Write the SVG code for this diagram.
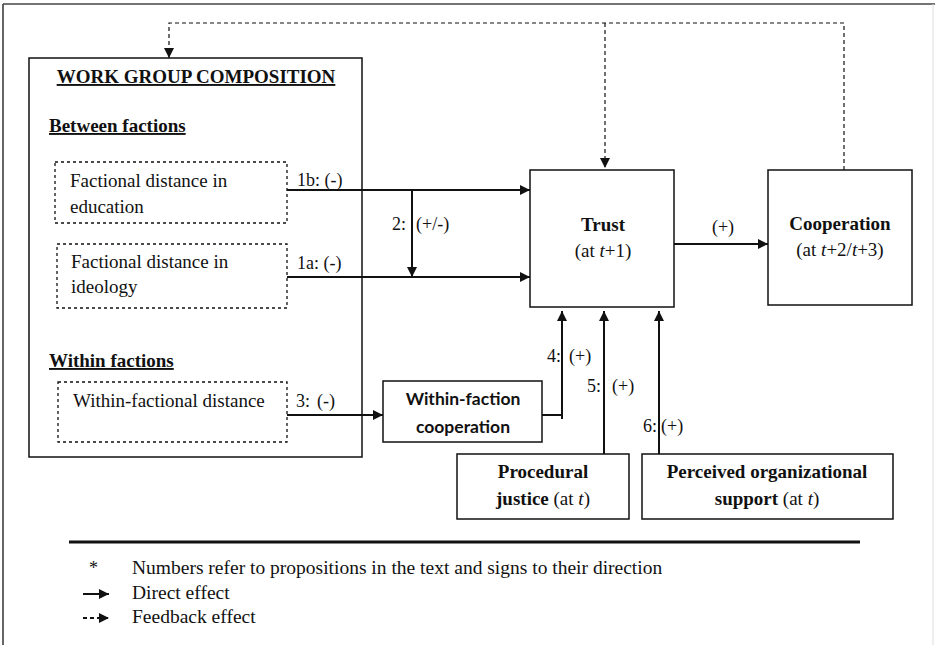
<svg xmlns="http://www.w3.org/2000/svg" width="935" height="645" viewBox="0 0 935 645">
<style>
text{font-family:"Liberation Serif","Times New Roman",serif;fill:#111}
.t{font-size:19px}
.b{font-size:19px;font-weight:bold}
.u{text-decoration:underline}
.l{font-size:18px}
.g{font-size:19.5px}
.s{font-family:Lato,"Open Sans",sans-serif;font-size:17.5px;font-weight:bold}
.box{fill:#fff;stroke:#111;stroke-width:1.5}
.dbox{fill:#fff;stroke:#111;stroke-width:1.3;stroke-dasharray:3 3}
.c{fill:none;stroke:#111;stroke-width:2}
.f{fill:none;stroke:#111;stroke-width:1.2;stroke-dasharray:4 3}
.i{font-style:italic}
</style>
<defs>
<marker id="a" viewBox="0 0 10 10" refX="10" refY="5" markerWidth="10" markerHeight="10" markerUnits="userSpaceOnUse" orient="auto">
<path d="M0,0 L10,5 L0,10 Z" fill="#111"/>
</marker>
</defs>
<rect width="935" height="645" fill="#fff"/>
<g id="frame">
<line x1="3" y1="4" x2="935" y2="4" stroke="#444" stroke-width="1.5"/>
<line x1="3" y1="4" x2="3" y2="645" stroke="#333" stroke-width="1.5"/>
<line x1="933" y1="4" x2="933" y2="645" stroke="#ddd" stroke-width="1"/>
</g>
<g id="work-group">
<rect class="box" x="29" y="58" width="333" height="399"/>
<text class="b u" x="196" y="83" text-anchor="middle">WORK GROUP COMPOSITION</text>
<text class="b u" x="49" y="132">Between factions</text>
<text class="b u" x="49" y="367">Within factions</text>
</g>
<g id="education">
<rect class="dbox" x="55" y="162" width="232" height="61"/>
<text class="t" x="70" y="187">Factional distance in</text>
<text class="t" x="70" y="213">education</text>
</g>
<g id="ideology">
<rect class="dbox" x="57" y="244" width="230" height="64"/>
<text class="t" x="71" y="268">Factional distance in</text>
<text class="t" x="71" y="293">ideology</text>
</g>
<g id="within-distance">
<rect class="dbox" x="58" y="382" width="229" height="60"/>
<text class="t" x="73" y="407">Within-factional distance</text>
</g>
<g id="trust">
<rect class="box" x="530" y="170" width="144" height="137"/>
<text class="b" x="603" y="231" text-anchor="middle">Trust</text>
<text class="t" x="603" y="257" text-anchor="middle">(at <tspan class="i">t</tspan>+1)</text>
</g>
<g id="cooperation">
<rect class="box" x="768" y="170" width="144" height="135"/>
<text class="b" x="840" y="230" text-anchor="middle">Cooperation</text>
<text class="t" x="840" y="256" text-anchor="middle">(at <tspan class="i">t</tspan>+2/<tspan class="i">t</tspan>+3)</text>
</g>
<g id="within-coop">
<rect class="box" x="383" y="381" width="159" height="61"/>
<text class="s" x="463" y="405" text-anchor="middle">Within-faction</text>
<text class="s" x="463" y="433" text-anchor="middle">cooperation</text>
</g>
<g id="procedural">
<rect class="box" x="457" y="454" width="172" height="65"/>
<text class="b" x="543" y="478" text-anchor="middle">Procedural</text>
<text class="t" x="543" y="505" text-anchor="middle"><tspan font-weight="bold">justice</tspan> (at <tspan class="i">t</tspan>)</text>
</g>
<g id="support">
<rect class="box" x="642" y="454" width="251" height="65"/>
<text class="b" x="767" y="478" text-anchor="middle">Perceived organizational</text>
<text class="t" x="767" y="505" text-anchor="middle"><tspan font-weight="bold">support</tspan> (at <tspan class="i">t</tspan>)</text>
</g>
<g id="connectors">
<path class="c" d="M287,190 H530" marker-end="url(#a)"/>
<path class="c" d="M287,277 H530" marker-end="url(#a)"/>
<path class="c" d="M412,190 V277" marker-end="url(#a)"/>
<path class="c" d="M674,244 H768" marker-end="url(#a)"/>
<path class="c" d="M287,415 H383" marker-end="url(#a)"/>
<path class="c" d="M542,415 H562"/>
<path class="c" d="M562,419 V311" marker-end="url(#a)"/>
<path class="c" d="M604,454 V311" marker-end="url(#a)"/>
<path class="c" d="M659,454 V311" marker-end="url(#a)"/>
<path class="f" d="M844,170 V23 H169 V58" marker-end="url(#a)"/>
<path class="f" d="M605,23 V168" marker-end="url(#a)"/>
<text class="l" x="297" y="186">1b: (-)</text>
<text class="l" x="297" y="269">1a: (-)</text>
<text class="l" x="392" y="230">2:</text>
<text class="l" x="416" y="230">(+/-)</text>
<text class="l" x="723" y="233" text-anchor="middle">(+)</text>
<text class="l" x="296" y="407">3:</text>
<text class="l" x="317" y="407">(-)</text>
<text class="l" x="547" y="362">4:</text>
<text class="l" x="569" y="362">(+)</text>
<text class="l" x="587" y="392">5:</text>
<text class="l" x="612" y="392">(+)</text>
<text class="l" x="643" y="432">6:</text>
<text class="l" x="661" y="432">(+)</text>
</g>
<g id="legend">
<line x1="69" y1="542" x2="860" y2="542" stroke="#111" stroke-width="3"/>
<text class="l" x="89" y="574">*</text>
<text class="g" x="132" y="574">Numbers refer to propositions in the text and signs to their direction</text>
<path class="c" d="M83,594 H109" marker-end="url(#a)"/>
<text class="g" x="132" y="599">Direct effect</text>
<path class="c" d="M83,618 H109" stroke-dasharray="4 3" marker-end="url(#a)"/>
<text class="g" x="132" y="623">Feedback effect</text>
</g>
</svg>
